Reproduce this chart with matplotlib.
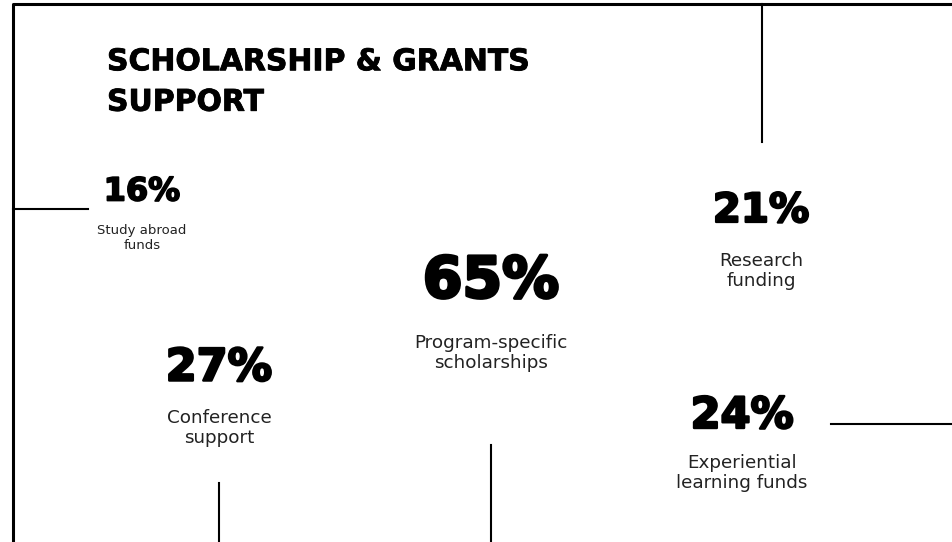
import matplotlib.pyplot as plt
import matplotlib.patheffects as pe

# data
values = [16, 21, 65, 27, 24]
labels = ["Study abroad\nfunds", "Research\nfunding", "Program-specific\nscholarships",
          "Conference\nsupport", "Experiential\nlearning funds"]
title = "SCHOLARSHIP & GRANTS\nSUPPORT"

# layout (pixel coords, y down)
centers = [(142, 192), (761, 211), (491, 282), (219, 368), (742, 416)]
label_y = [238, 271, 353, 428, 473]
value_sizes = [23, 29, 41, 32, 31]
label_sizes = [9.5, 13.2, 13.2, 13.2, 13.2]

W, H = 953, 542
fig = plt.figure(figsize=(W / 100, H / 100), dpi=100)
ax = fig.add_axes([0, 0, 1, 1])
ax.set_xlim(0, W)
ax.set_ylim(H, 0)
ax.axis('off')

# frame
ax.plot([13, 13, W], [H, 4, 4], color='black', lw=2.2, solid_capstyle='butt')

# connector lines
ax.plot([13, 88], [209, 209], color='black', lw=1.5)
ax.plot([762, 762], [4, 142], color='black', lw=1.5)
ax.plot([491, 491], [445, H], color='black', lw=1.5)
ax.plot([219, 219], [483, H], color='black', lw=1.5)
ax.plot([831, W], [424, 424], color='black', lw=1.5)

ax.text(107, 82, title, fontsize=21.5, fontweight='bold', ha='left', va='center',
        linespacing=1.5, color='black', family='DejaVu Sans',
        path_effects=[pe.withStroke(linewidth=0.6, foreground='black')])

for v, lab, (cx, cy), ly, vs, ls in zip(values, labels, centers, label_y, value_sizes, label_sizes):
    ax.text(cx, cy, f"{v}%", fontsize=vs, fontweight='heavy', ha='center', va='center',
            color='black', family='DejaVu Sans',
            path_effects=[pe.withStroke(linewidth=vs / 18, foreground='black')])
    ax.text(cx, ly, lab, fontsize=ls, ha='center', va='center', linespacing=1.18,
            color='#222222', family='DejaVu Sans')

fig.savefig('out.png', dpi=100, facecolor='white')
